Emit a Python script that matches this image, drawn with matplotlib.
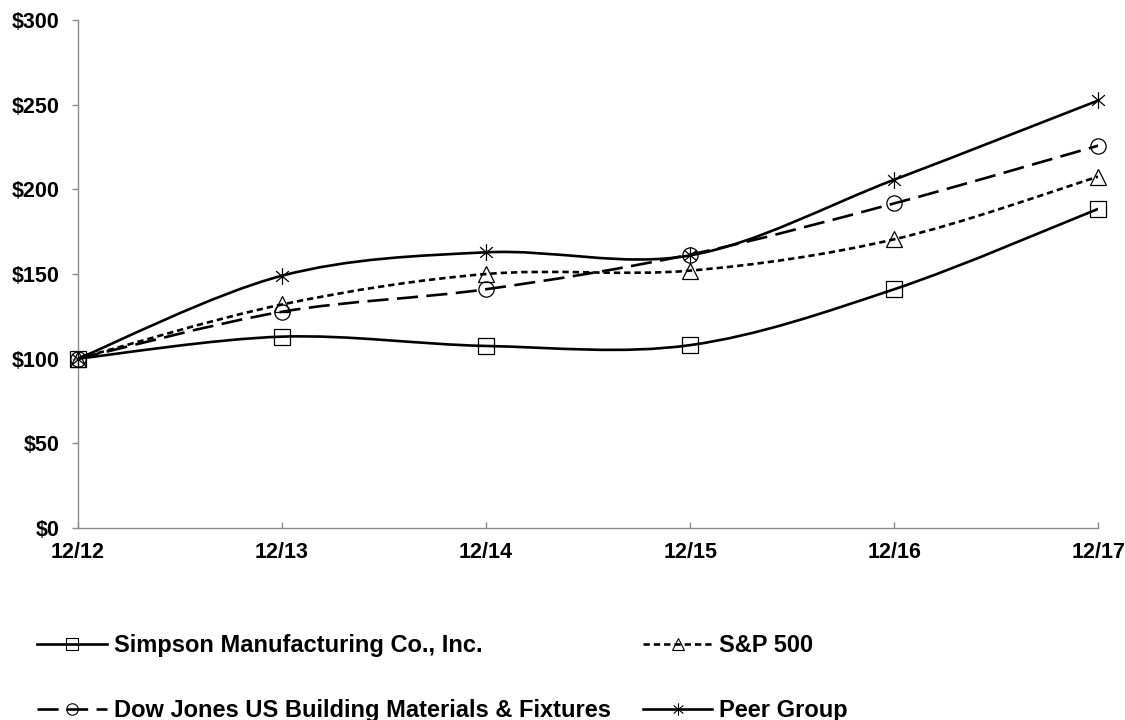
import matplotlib
matplotlib.use('Agg')
import matplotlib.pyplot as plt
from matplotlib.path import Path
from matplotlib.patches import PathPatch
from matplotlib.lines import Line2D
import numpy as np

plt.rcParams['font.family'] = ['Liberation Sans', 'DejaVu Sans']
plt.rcParams['font.weight'] = 'bold'

years = ['12/12', '12/13', '12/14', '12/15', '12/16', '12/17']
simpson = [100, 113, 107.5, 108, 141, 188.5]
sp500 = [100, 132, 150, 152, 170.5, 207.5]
dowjones = [100, 127.7, 141, 161.5, 191.7, 225.8]
peer = [100, 149, 162.8, 161, 205.7, 252.5]

names = ['Simpson Manufacturing Co., Inc.', 'S&P 500',
         'Dow Jones US Building Materials & Fixtures', 'Peer Group']

# asterisk marker: vertical spoke plus two diagonals
c, s = np.cos(np.radians(40)), np.sin(np.radians(40))
star = Path([(0, -1), (0, 1), (-c, -s), (c, s), (-c, s), (c, -s)],
            [Path.MOVETO, Path.LINETO] * 3)

styles = [
    dict(ls='-', marker='s', ms=11.5),
    dict(ls=(0, (2.4, 1.5)), marker='^', ms=12),
    dict(ls=(0, (8, 3.2)), marker='o', ms=11),
    dict(ls='-', marker=star, ms=12),
]
LW = 1.9


def smooth_path(xs, ys):
    # Excel-style smoothed line as cubic bezier segments
    pts = np.column_stack([xs, ys]).astype(float)
    n = len(pts)
    verts = [pts[0]]
    codes = [Path.MOVETO]
    for i in range(n - 1):
        p0 = pts[max(i - 1, 0)]
        p1 = pts[i]
        p2 = pts[i + 1]
        p3 = pts[min(i + 2, n - 1)]
        c1 = p1 + (p2 - p0) / 6.0
        c2 = p2 - (p3 - p1) / 6.0
        verts += [c1, c2, p2]
        codes += [Path.CURVE4] * 3
    return Path(verts, codes)


fig = plt.figure(figsize=(11.25, 7.2), dpi=100)
ax = fig.add_axes([0.0693, 0.2667, 0.907, 0.7055])

x = np.arange(len(years))
handles = []
for vals, st, name in zip([simpson, sp500, dowjones, peer], styles, names):
    patch = PathPatch(smooth_path(x, vals), fill=False, edgecolor='black',
                      linewidth=LW, linestyle=st['ls'], zorder=3)
    ax.add_patch(patch)
    ax.plot(x, vals, ls='none', marker=st['marker'], ms=st['ms'],
            mfc='none', mec='black', mew=0.9, zorder=4, clip_on=False)
    handles.append(Line2D([], [], color='black', lw=LW, ls=st['ls'],
                          marker=st['marker'], ms=st['ms'] * 0.75,
                          mfc='none', mec='black', mew=0.8))

ax.set_xlim(0, len(years) - 1)
ax.set_ylim(0, 300)
ax.set_xticks(x)
ax.set_xticklabels(years)
ax.set_yticks(np.arange(0, 301, 50))
ax.set_yticklabels(['$%d' % v for v in range(0, 301, 50)])

for sp in ['top', 'right']:
    ax.spines[sp].set_visible(False)
for sp in ['left', 'bottom']:
    ax.spines[sp].set_color('#8c8c8c')
    ax.spines[sp].set_linewidth(1.0)

ax.tick_params(axis='y', direction='out', length=4.5, width=1.0,
               color='#8c8c8c', labelsize=15.5, pad=9)
ax.tick_params(axis='x', direction='in', length=4.5, width=1.0,
               color='#8c8c8c', labelsize=15.5, pad=10)
for lab in ax.get_xticklabels() + ax.get_yticklabels():
    lab.set_fontweight('bold')

order = [0, 2, 1, 3]
leg = fig.legend([handles[i] for i in order], [names[i] for i in order],
                 ncol=2, loc='upper left', bbox_to_anchor=(0.033, 0.119),
                 frameon=False, fontsize=17, handlelength=2.95,
                 handletextpad=0.3, columnspacing=1.35, labelspacing=1.77,
                 numpoints=1, borderaxespad=0, borderpad=0)
for t in leg.get_texts():
    t.set_fontweight('bold')

fig.savefig('out.png', dpi=100)
